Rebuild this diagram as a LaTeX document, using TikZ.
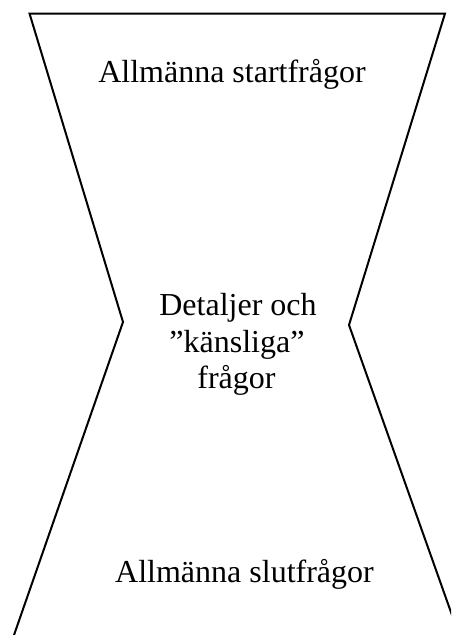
\documentclass[tikz,border=0pt]{standalone}
\usepackage{fontspec}
\setmainfont{Liberation Serif}
\begin{document}
\begin{tikzpicture}[x=1pt,y=-1pt,
  outline/.style={line width=2pt,line join=miter},
  label/.style={font=\fontsize{32}{36.5}\selectfont,anchor=base,inner sep=0pt}]
\useasboundingbox (0,0) rectangle (451,635);
\begin{scope}
\clip (0,0) rectangle (451,635);
\coordinate (tl) at (29.5,13.5);
\coordinate (tr) at (445,13.5);
\coordinate (ml) at (123,322);
\coordinate (mr) at (349,325);
\coordinate (bl) at (8.8,650);
\coordinate (br) at (464.4,650);
\draw[outline] (bl) -- (ml) -- (tl) -- (tr) -- (mr) -- (br);
\end{scope}
\node[label] (start) at (232,82) {Allmänna startfrågor};
\node[label] (mid1) at (238,315.5) {Detaljer och};
\node[label] (mid2) at (237,352) {”känsliga”};
\node[label] (mid3) at (236.5,388.5) {frågor};
\node[label] (slut) at (244.5,582) {Allmänna slutfrågor};
\end{tikzpicture}
\end{document}
